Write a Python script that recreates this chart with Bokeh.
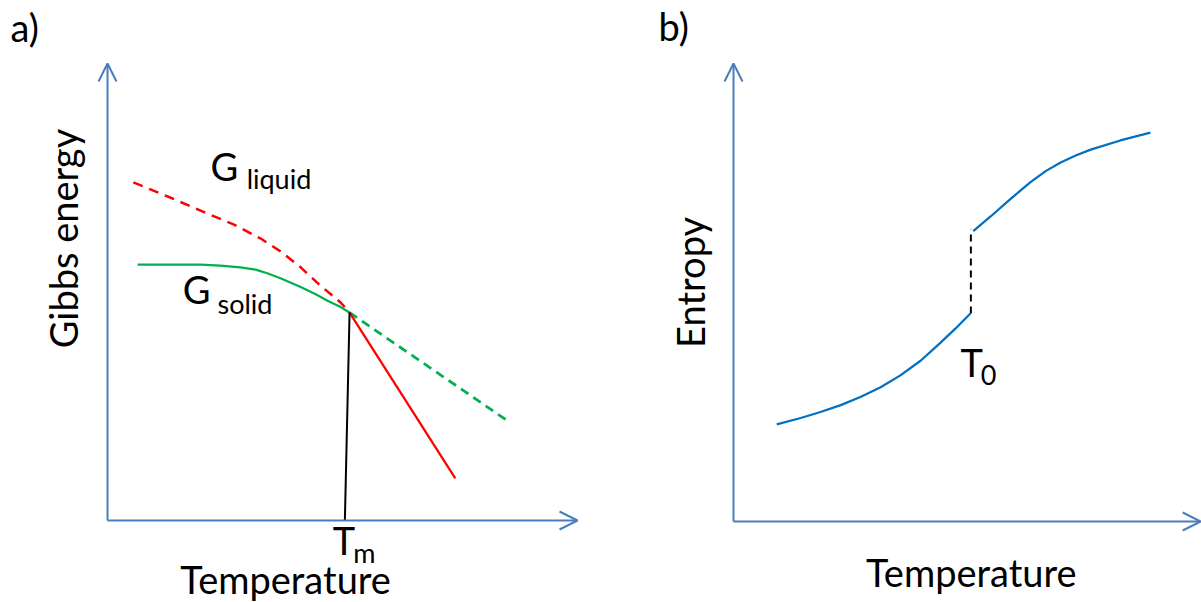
from bokeh.plotting import figure
from bokeh.layouts import row
from bokeh.models import Range1d, Arrow, OpenHead, Label
from bokeh.embed import file_html
from bokeh.resources import INLINE

# ---------------- data (arbitrary units) ----------------
# panel a: Gibbs energy vs temperature
T_solid = [0.64, 1.34, 1.98, 2.40, 2.83, 3.15, 3.40, 3.68, 4.11, 4.43, 4.68, 4.96, 5.15]
G_solid = [5.60, 5.60, 5.60, 5.58, 5.54, 5.49, 5.41, 5.30, 5.11, 4.95, 4.81, 4.67, 4.55]
T_solid_ext = [5.15, 8.57]
G_solid_ext = [4.55, 2.14]
T_liq_super = [0.55, 1.28, 1.98, 2.68, 3.26, 3.68, 4.11, 4.53, 4.96, 5.15]
G_liq_super = [7.40, 7.09, 6.78, 6.48, 6.17, 5.89, 5.54, 5.14, 4.77, 4.55]
T_liq = [5.15, 7.40]
G_liq = [4.55, 0.92]
T_melt = [5.15, 5.05]
G_melt = [4.55, 0.0]

# panel b: entropy vs temperature
T_low = [0.92, 1.43, 1.85, 2.28, 2.70, 3.13, 3.55, 3.98, 4.40, 4.72, 5.04]
S_low = [2.12, 2.26, 2.39, 2.54, 2.72, 2.93, 3.19, 3.51, 3.90, 4.21, 4.54]
T_high = [5.10, 5.47, 5.89, 6.32, 6.64, 6.96, 7.28, 7.60, 8.23, 8.87]
S_high = [6.34, 6.66, 7.04, 7.41, 7.65, 7.84, 7.99, 8.12, 8.32, 8.49]
T_jump = [5.05, 5.05]
S_jump = [4.54, 6.38]

FONT = "Lato"
AXIS_COLOR = "#4A7EBB"
BIG = "38px"
SUB = "27px"


def make_fig(w, h, xr, yr):
    p = figure(width=w, height=h, x_range=Range1d(*xr), y_range=Range1d(*yr),
               output_backend="svg", toolbar_location=None,
               min_border=0, min_border_left=0, min_border_right=0,
               min_border_top=0, min_border_bottom=0)
    p.axis.visible = False
    p.grid.visible = False
    p.outline_line_color = None
    p.background_fill_color = "white"
    p.border_fill_color = "white"
    return p


def add_axes(p, xtip, ytip):
    p.add_layout(Arrow(end=OpenHead(size=18, line_color=AXIS_COLOR, line_width=2),
                       x_start=0, y_start=0, x_end=xtip, y_end=0,
                       line_color=AXIS_COLOR, line_width=2))
    p.add_layout(Arrow(end=OpenHead(size=18, line_color=AXIS_COLOR, line_width=2),
                       x_start=0, y_start=0, x_end=0, y_end=ytip,
                       line_color=AXIS_COLOR, line_width=2))


def lab(p, x, y, text, size, angle=0.0, align="left", baseline="alphabetic"):
    p.add_layout(Label(x=x, y=y, text=text, text_font=FONT, text_font_size=size,
                       text_color="black", angle=angle, text_align=align,
                       text_baseline=baseline))


# ---------------- panel a ----------------
pa = make_fig(600, 602, (-2.277, 10.489), (-1.794, 11.379))
add_axes(pa, 10.0, 10.0)
pa.line(T_liq_super, G_liq_super, line_color="#FF0000", line_width=2.5, line_dash="10 7")
pa.line(T_solid, G_solid, line_color="#00B050", line_width=2.25)
pa.line(T_solid_ext, G_solid_ext, line_color="#00B050", line_width=2.75, line_dash="9 6")
pa.line(T_liq, G_liq, line_color="#FF0000", line_width=2.25)
pa.line(T_melt, G_melt, line_color="black", line_width=2)

lab(pa, -2.064, 10.81, "a)", BIG)
lab(pa, 2.19, 7.75, "G", BIG)
lab(pa, 2.96, 7.48, "liquid", SUB)
lab(pa, 1.60, 5.06, "G", BIG)
lab(pa, 2.34, 4.75, "solid", SUB)
lab(pa, 4.79, -0.42, "T", BIG)
lab(pa, 5.23, -0.70, "m", SUB)
lab(pa, -0.957, 6.17, "Gibbs energy", BIG, angle=1.5708, align="center", baseline="middle")
lab(pa, 3.79, -1.27, "Temperature", BIG, align="center", baseline="middle")

# ---------------- panel b ----------------
pb = make_fig(601, 602, (-2.830, 9.957), (-1.769, 11.376))
add_axes(pb, 9.94, 10.0)
pb.line(T_low, S_low, line_color="#0070C0", line_width=2.25)
pb.line(T_high, S_high, line_color="#0070C0", line_width=2.25)
pb.line(T_jump, S_jump, line_color="black", line_width=2, line_dash="7 5")

lab(pb, -1.596, 10.81, "b)", BIG)
lab(pb, 4.83, 3.49, "T", BIG)
lab(pb, 5.26, 3.19, "0", SUB)
lab(pb, -0.936, 5.22, "Entropy", BIG, angle=1.5708, align="center", baseline="middle")
lab(pb, 5.06, -1.11, "Temperature", BIG, align="center", baseline="middle")

layout = row(pa, pb, spacing=0)
open("out.html", "w").write(file_html(layout, INLINE))
